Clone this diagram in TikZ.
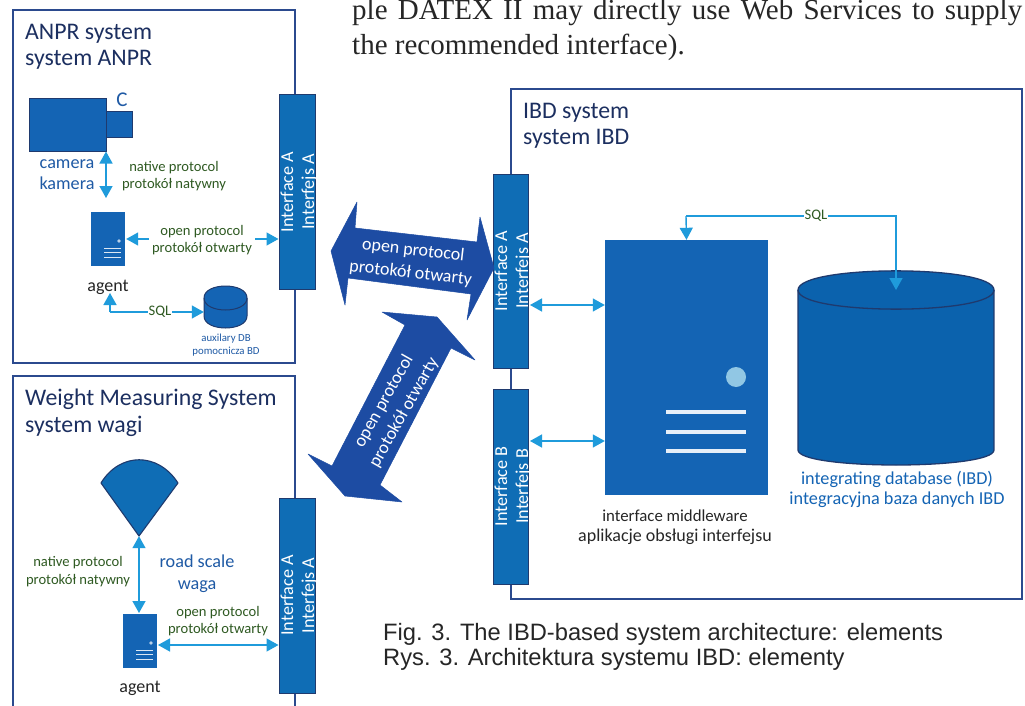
\documentclass[tikz,border=0pt]{standalone}
\usepackage{fontspec}
\setmainfont{Carlito}
\newfontfamily\serifbody{Liberation Serif}
\newfontfamily\sansbody{Liberation Sans}
\usetikzlibrary{arrows.meta}
\definecolor{frameblue}{HTML}{2B4A8E}
\definecolor{ifblue}{HTML}{0F6DB5}
\definecolor{bigblue}{HTML}{1D4CA3}
\definecolor{srvblue}{HTML}{1464B4}
\definecolor{lineblue}{HTML}{1F9BDB}
\definecolor{greenlbl}{HTML}{2F5A22}
\definecolor{lblblue}{HTML}{1F5AA5}
\definecolor{titleblue}{HTML}{1C2F60}
\definecolor{edgedark}{HTML}{1F3A6E}
\definecolor{cylmid}{HTML}{1480C4}
\definecolor{cyledge}{HTML}{0B62AD}
\tikzset{
  frame/.style={draw=frameblue,line width=1.3pt},
  ifacebox/.style={draw=edgedark,fill=ifblue,line width=1pt,inner sep=0pt},
  ifacetext/.style={text=white,font=\fontsize{18.2}{21}\selectfont,align=center,rotate=90,inner sep=0pt},
  title/.style={text=titleblue,font=\fontsize{23.8}{26.3}\selectfont,align=left,anchor=north west,inner sep=0pt},
  bluelbl/.style={text=lblblue,font=\fontsize{18.2}{21}\selectfont,align=center,inner sep=0pt},
  proto/.style={text=greenlbl,font=\fontsize{14.6}{17.5}\selectfont,align=center,inner sep=0pt},
  blk/.style={text=black!85,font=\fontsize{18}{20}\selectfont,align=center,inner sep=0pt},
  srv/.style={fill=srvblue,inner sep=0pt},
  flow/.style={draw=lineblue,line width=1.4pt,{Triangle[length=12pt,width=13pt,fill=lineblue]}-{Triangle[length=12pt,width=13pt,fill=lineblue]}},
  flowend/.style={draw=lineblue,line width=1.4pt,-{Triangle[length=12pt,width=13pt,fill=lineblue]}},
  bigarrow/.style={fill=bigblue,draw=bigblue,line width=.5pt,line join=round},
  bigtext/.style={text=white,font=\fontsize{18}{23}\selectfont,align=center,inner sep=0pt},
  srvline/.style={draw=white!85!srvblue,line width=1pt},
  srvlineb/.style={draw=white!90!srvblue,line width=4.5pt},
}
\begin{document}
\begin{tikzpicture}[x=1pt,y=-1pt]
\useasboundingbox (0,0) rectangle (1025,706);
\fill[white] (0,0) rectangle (1025,706);
% article text
\node[anchor=west,inner sep=0pt,font=\serifbody\fontsize{29}{33}\selectfont,text=black!85] (bodya) at (352,13)
  {\makebox[670pt][s]{ple DATEX II may directly use Web Services to supply}};
\node[anchor=west,inner sep=0pt,font=\serifbody\fontsize{29}{33}\selectfont,text=black!85] (bodyb) at (352,47)
  {the recommended interface).};
% ANPR
\node[frame,minimum width=282pt,minimum height=353pt,inner sep=0pt] (anpr) at (154,186.5) {};
\node[title] (anprt) at (25,24) {ANPR system\\system ANPR};
\node[draw=edgedark,fill=srvblue,line width=1pt,minimum width=77pt,minimum height=52pt,inner sep=0pt] (cam) at (67.5,125) {};
\node[draw=edgedark,fill=srvblue,line width=1pt,minimum width=26pt,minimum height=26pt,inner sep=0pt] (lens) at (119,125) {};
\node[bluelbl,font=\fontsize{21}{21}\selectfont] (camc) at (122,100) {C};
\node[bluelbl] (camt) at (67,175) {camera\\kamera};
\node[proto] (nat1) at (174,176) {native protocol\\protokół natywny};
\node[srv,minimum width=34pt,minimum height=54pt] (ag1) at (108,239) {};
\fill[white!70!srvblue] (119,241) circle (1.8pt);
\draw[srvline] (104,248) -- (121,248) (104,252.5) -- (121,252.5) (104,257) -- (121,257);
\node[blk] (ag1t) at (108,287) {agent};
\node[ifacebox,minimum width=36pt,minimum height=194pt] (ifa1) at (297,192) {};
\node[ifacetext] (ifa1t) at (299,192) {Interface A\\Interfejs A};
\draw[flow,shorten <=1pt] (ag1.east) -- (ag1.east -| ifa1.west);
\node[proto,fill=white,inner xsep=3pt] (open1) at (202,240) {open protocol\\protokół otwarty};
\coordinate (cama) at (106,151.5);
\coordinate (camz) at (106,198);
\draw[flow] (cama) -- (camz);
% aux DB
\node[inner sep=0pt,minimum width=43pt,minimum height=42pt] (aux) at (225.5,307) {};
\draw[fill=srvblue,draw=edgedark,line width=1pt] (204,298) -- (204,316) .. controls (204,332) and (247,332) .. (247,316) -- (247,298) .. controls (247,282) and (204,282) .. (204,298) -- cycle;
\draw[draw=edgedark,line width=1pt] (204,298) .. controls (204,314) and (247,314) .. (247,298);
\node[bluelbl,font=\fontsize{10.8}{13}\selectfont] (auxt) at (226,345.5) {auxilary DB\\pomocnicza BD};
\coordinate (sqla) at (110,293);
\coordinate (sqlb) at (110,312);
\draw[flowend] (sqlb) -- (aux.west |- sqlb);
\draw[flowend] (sqlb) -- (sqla);
\node[proto,fill=white,inner xsep=1pt] (sql1) at (160,312) {SQL};
% Weight system
\coordinate (w1) at (13,706);
\coordinate (w2) at (13,376);
\coordinate (w3) at (295,376);
\coordinate (w4) at (295,706);
\draw[frame] (w1) -- (w2) -- (w3) -- (w4);
\node[title] (wt) at (25,389) {Weight Measuring System\\system wagi};
\node[inner sep=0pt,minimum width=77pt,minimum height=76pt] (scale) at (139,498) {};
\draw[fill=ifblue,draw=edgedark,line width=1.1pt,line join=round] (139,536) -- (101,483) .. controls (120,452) and (158,452) .. (178,483) -- cycle;
\node[proto] (nat2) at (78,571.5) {native protocol\\protokół natywny};
\node[bluelbl] (road) at (197,561) {road scale};
\node[bluelbl] (waga) at (197,587) {waga};
\node[proto] (open2) at (218,621) {open protocol\\protokół otwarty};
\node[srv,minimum width=34pt,minimum height=54pt] (ag2) at (140,641) {};
\fill[white!70!srvblue] (151,643) circle (1.8pt);
\draw[srvline] (136,650) -- (153,650) (136,654.5) -- (153,654.5) (136,659) -- (153,659);
\node[blk] (ag2t) at (140,688) {agent};
\node[ifacebox,minimum width=36pt,minimum height=195pt] (ifa2) at (297,595.5) {};
\node[ifacetext] (ifa2t) at (299,595.5) {Interface A\\Interfejs A};
\coordinate (ag2top) at (139,613);
\draw[flow] (scale.south) -- (ag2top);
\coordinate (ag2e) at (158,645);
\draw[flow] (ag2e) -- (ag2e -| ifa2.west);
% IBD
\node[frame,minimum width=511pt,minimum height=510pt,inner sep=0pt] (ibd) at (766.5,344) {};
\node[title] (ibdt) at (523,103) {IBD system\\system IBD};
\node[ifacebox,minimum width=35pt,minimum height=194pt] (ifA) at (511,271) {};
\node[ifacetext] (ifAt) at (513,271) {Interface A\\Interfejs A};
\node[ifacebox,minimum width=35pt,minimum height=195pt] (ifB) at (511,486.5) {};
\node[ifacetext] (ifBt) at (513,486.5) {Interface B\\Interfejs B};
\node[srv,minimum width=163pt,minimum height=255pt] (mid) at (686.5,367.5) {};
\fill[white!60!srvblue!90!cyan] (736,377) circle (10pt);
\draw[srvlineb] (666,412) -- (746,412) (666,432) -- (746,432) (666,451) -- (746,451);
\node[blk] (midt) at (675,527) {\fontsize{16.8}{20}\selectfont interface middleware\\aplikacje obsługi interfejsu};
\coordinate (cyltop) at (896,290);
\draw[left color=cyledge,middle color=cylmid,right color=cyledge,draw=edgedark,line width=1.3pt] (798,290) -- (798,450) .. controls (798,470) and (994,470) .. (994,450) -- (994,290) .. controls (994,264.5) and (798,264.5) .. (798,290) -- cycle;
\draw[draw=edgedark,line width=1.3pt] (798,290) .. controls (798,315.5) and (994,315.5) .. (994,290);
\node[bluelbl,font=\fontsize{18.2}{20}\selectfont,text=srvblue] (cylt) at (897,489.5) {integrating database (IBD)\\integracyjna baza danych IBD};
\coordinate (ifAe) at (530,305);
\coordinate (ifBe) at (530,441);
\draw[flow] (ifAe) -- (ifAe -| mid.west);
\draw[flow] (ifBe) -- (ifBe -| mid.west);
\coordinate (sqlc) at (686,216);
\coordinate (sqld) at (896,216);
\draw[flowend] (sqlc) -- (mid.north);
\draw[flowend] (sqlc) -- (sqld) -- (cyltop);
\node[proto,fill=white,inner xsep=1pt] (sql2) at (816,216) {SQL};
% big arrows
\path[bigarrow] (331,251) -- (357,202) -- (355,228) -- (477,242) -- (480,217) -- (494,268) -- (467,320) -- (471,294) -- (348,278) -- (345,305) -- cycle;
\node[bigtext,rotate=-6.5] (big1t) at (412,262) {open protocol\\protokół otwarty};
\path[bigarrow] (382,312) -- (437,317) -- (475,360) -- (451,348) -- (380,485) -- (402,502) -- (345,496) -- (308,454) -- (332,466) -- (405,325) -- cycle;
\node[bigtext,rotate=60.5] (big2t) at (394,407) {open protocol\\protokół otwarty};
% caption
\node[anchor=north west,inner sep=0pt,font=\sansbody\fontsize{23.7}{25}\selectfont,align=left,text=black!85] (cap) at (383,623)
  {Fig. 3. The IBD-based system architecture: elements\\Rys. 3. Architektura systemu IBD: elementy};
\end{tikzpicture}
\end{document}
